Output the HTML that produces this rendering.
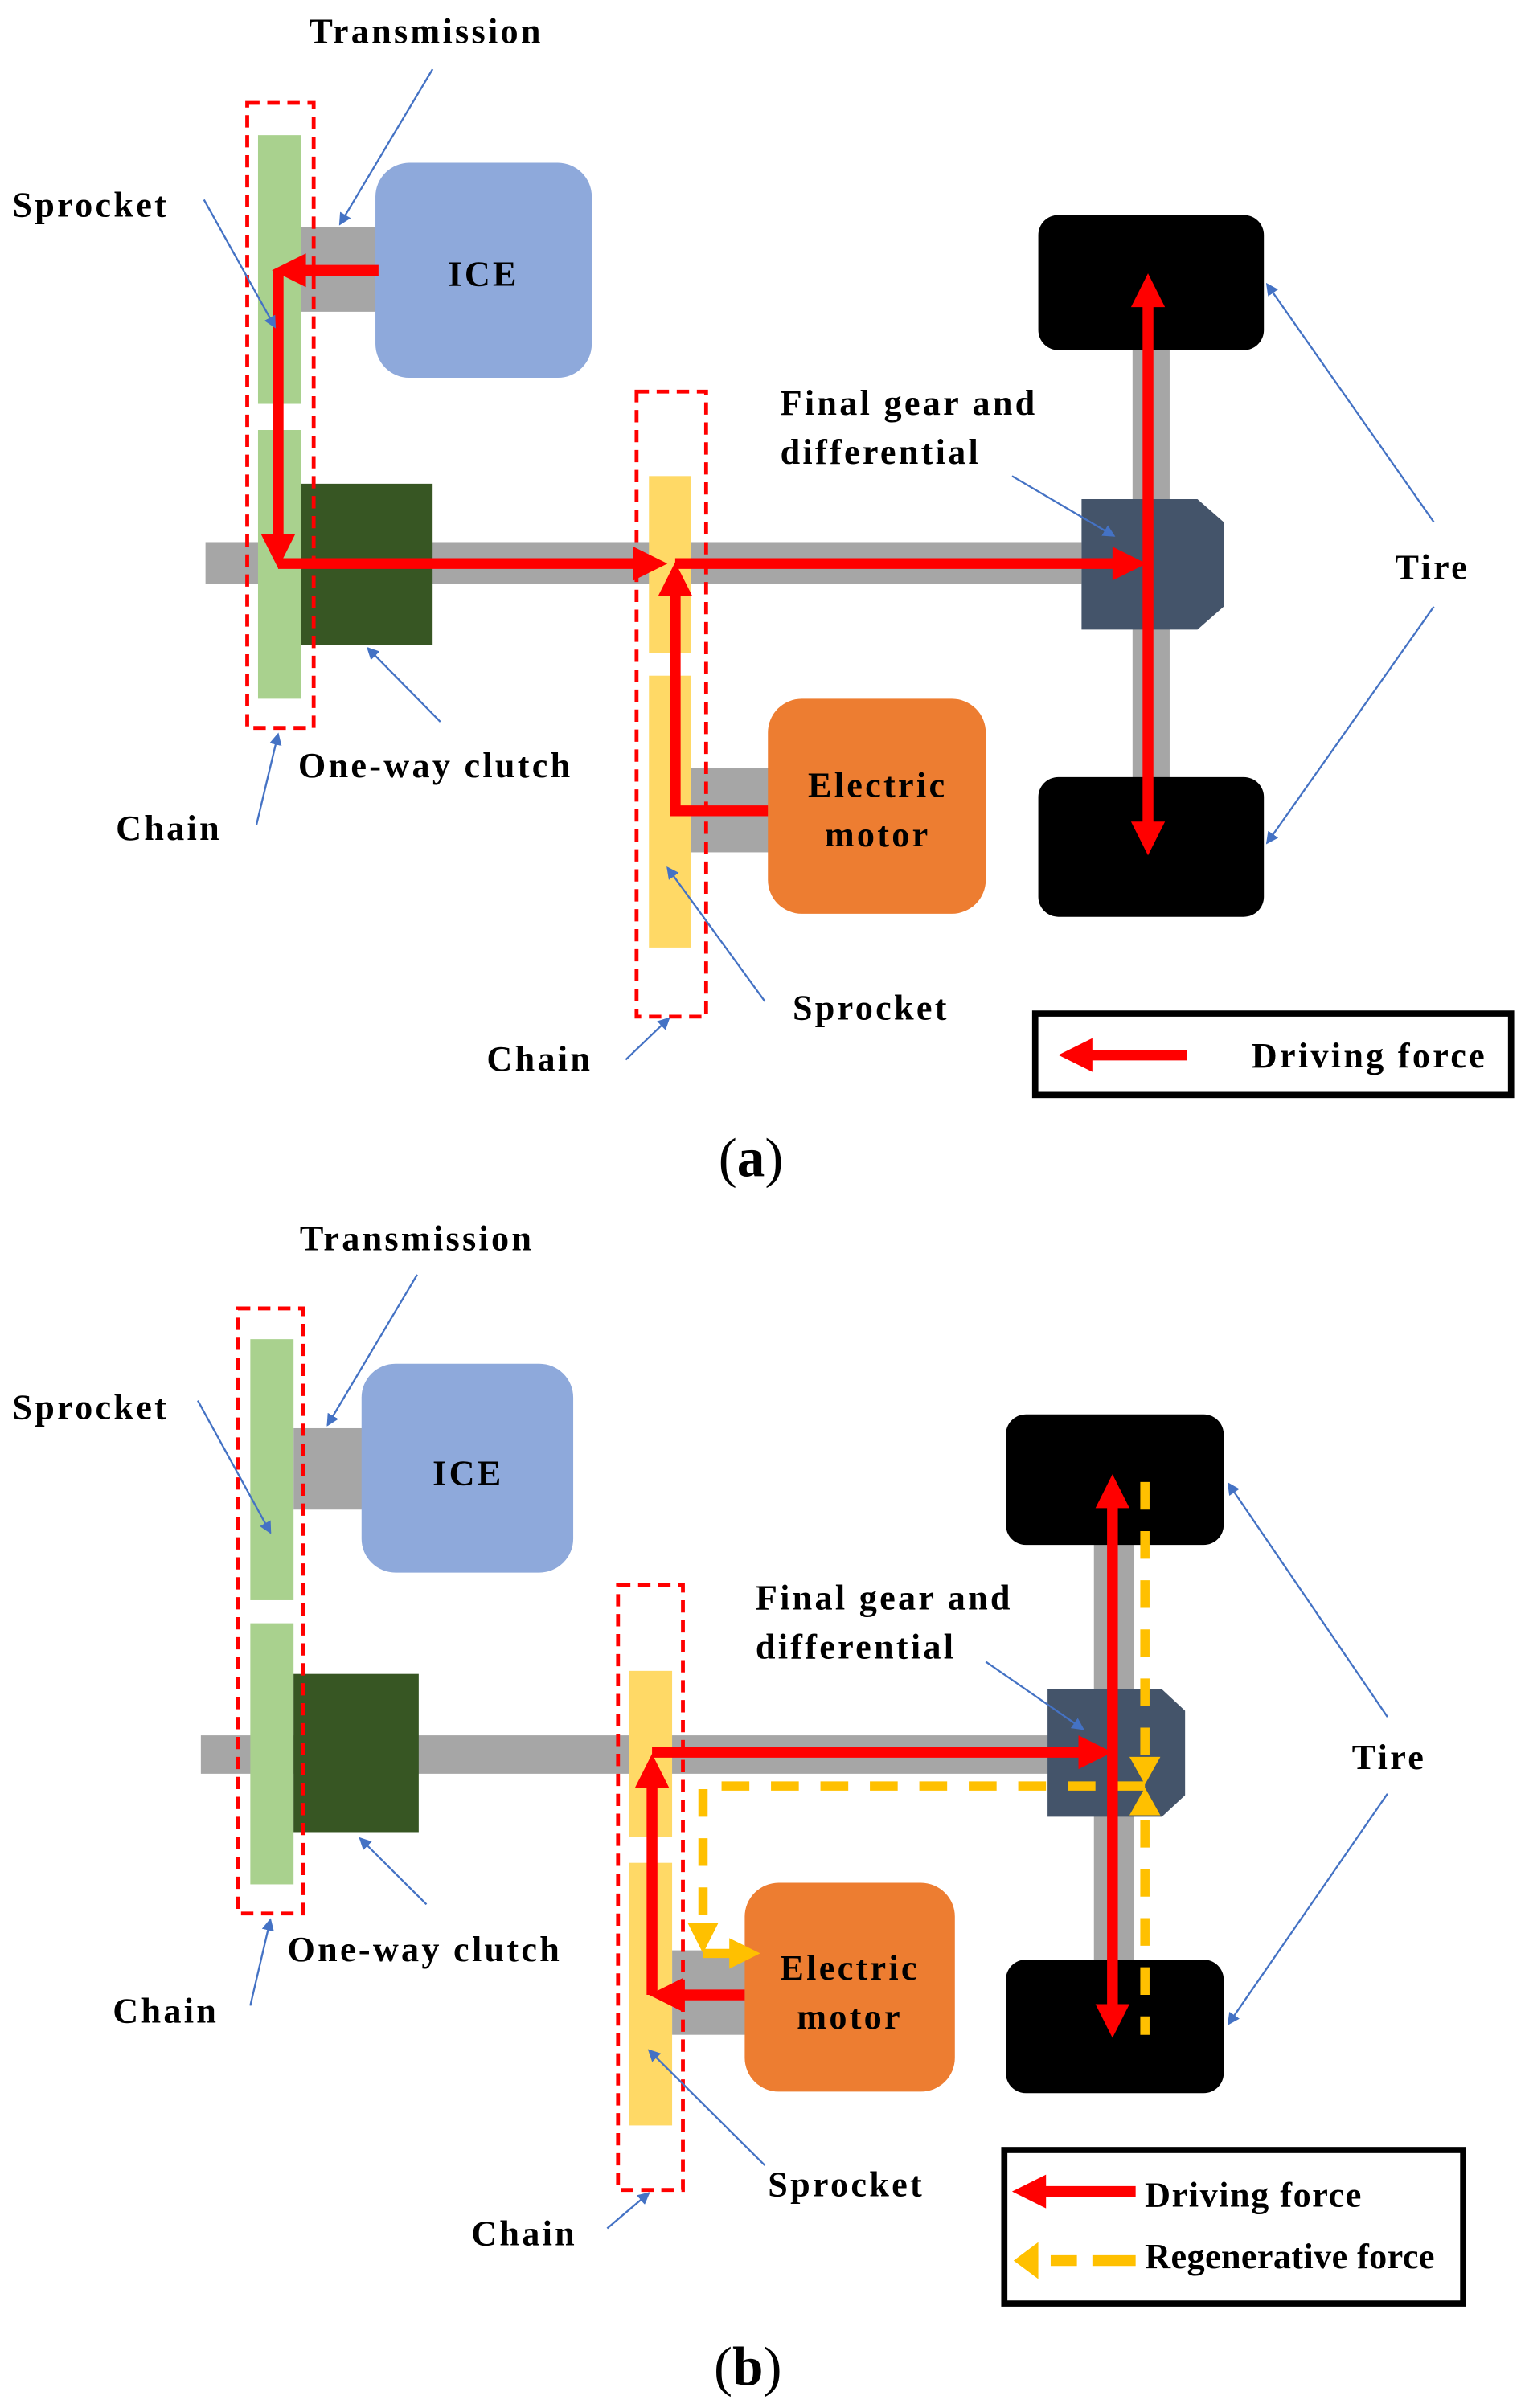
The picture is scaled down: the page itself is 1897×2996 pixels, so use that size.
<!DOCTYPE html>
<html><head><meta charset="utf-8"><style>html,body{margin:0;padding:0;background:#fff}svg{display:block}</style></head><body>
<svg width="1897" height="2996" viewBox="0 0 987 1568" preserveAspectRatio="none" xmlns="http://www.w3.org/2000/svg">
<defs>
<marker id="bl" markerWidth="8" markerHeight="8" refX="7" refY="4" orient="auto" markerUnits="userSpaceOnUse"><path d="M0,0 L8,4 L0,8 z" fill="#4472C4"/></marker>
</defs>
<g font-family="Liberation Serif, serif" font-weight="bold" font-size="23" fill="#000" letter-spacing="1.7">
<!-- PANEL A -->
<rect x="133" y="353" width="567" height="27" fill="#A6A6A6"/>
<rect x="195" y="148" width="50" height="55" fill="#A6A6A6"/>
<rect x="447" y="500" width="53" height="55" fill="#A6A6A6"/>
<rect x="733" y="225" width="24" height="285" fill="#A6A6A6"/>
<rect x="167" y="88" width="28" height="175" fill="#A9D18E"/>
<rect x="167" y="280" width="28" height="175" fill="#A9D18E"/>
<rect x="195" y="315" width="85" height="105" fill="#375623"/>
<rect x="243" y="106" width="140" height="140" rx="22" fill="#8EA9DB"/>
<text x="313" y="186" text-anchor="middle">ICE</text>
<rect x="420" y="310" width="27" height="115" fill="#FFD966"/>
<rect x="420" y="440" width="27" height="177" fill="#FFD966"/>
<rect x="497" y="455" width="141" height="140" rx="22" fill="#ED7D31"/>
<text x="568" y="519" text-anchor="middle">Electric</text>
<text x="568" y="551" text-anchor="middle">motor</text>
<rect x="672" y="140" width="146" height="88" rx="13" fill="#000"/>
<rect x="672" y="506" width="146" height="91" rx="13" fill="#000"/>
<path d="M700,325 L775,325 L792,340 L792,395 L775,410 L700,410 z" fill="#44546A"/>
<rect x="160" y="67" width="43" height="407" fill="none" stroke="#FF0000" stroke-width="2.5" stroke-dasharray="8,5"/>
<rect x="412" y="255" width="45" height="407" fill="none" stroke="#FF0000" stroke-width="2.5" stroke-dasharray="8,5"/>
<g fill="#FF0000" stroke="#FF0000">
<path d="M245,176 L195,176" stroke-width="7"/><path d="M176,176 L198,165 L198,187 z" stroke="none"/>
<path d="M180,176 L180,350" stroke-width="7"/><path d="M180,370 L169,348 L191,348 z" stroke="none"/>
<path d="M180,367 L412,367" stroke-width="7"/><path d="M432,367 L410,356 L410,378 z" stroke="none"/>
<path d="M437,367 L722,367" stroke-width="7"/><path d="M742,367 L720,356 L720,378 z" stroke="none"/>
<path d="M497,528 L437,528 L437,388" stroke-width="7" fill="none"/><path d="M437,366 L426,388 L448,388 z" stroke="none"/>
<path d="M743,198 L743,537" stroke-width="7"/><path d="M743,178 L732,200 L754,200 z" stroke="none"/><path d="M743,557 L732,535 L754,535 z" stroke="none"/>
</g>
<rect x="670" y="660" width="308" height="53" fill="#fff" stroke="#000" stroke-width="4"/>
<path d="M768,687 L705,687" stroke="#FF0000" stroke-width="7"/><path d="M685,687 L707,676 L707,698 z" fill="#FF0000"/>
<text x="810" y="695">Driving force</text>
<g stroke="#4472C4" stroke-width="1.2" fill="none" marker-end="url(#bl)">
<path d="M280,45 L220,146"/><path d="M132,130 L178,213"/><path d="M655,310 L721,349"/>
<path d="M928,340 L820,185"/><path d="M928,395 L820,549"/><path d="M285,470 L238,422"/>
<path d="M166,537 L180,478"/><path d="M495,652 L432,565"/><path d="M405,690 L433,663"/>
</g>
<text x="200" y="28">Transmission</text>
<text x="8" y="141">Sprocket</text>
<text x="505" y="270">Final gear and</text>
<text x="505" y="302">differential</text>
<text x="903" y="377">Tire</text>
<text x="193" y="506">One-way clutch</text>
<text x="75" y="547">Chain</text>
<text x="513" y="664">Sprocket</text>
<text x="315" y="697">Chain</text>
<text x="486" y="766" text-anchor="middle" font-weight="normal" font-size="36" letter-spacing="0">(<tspan font-weight="bold">a</tspan>)</text>

<!-- PANEL B -->
<rect x="130" y="1130" width="550" height="25" fill="#A6A6A6"/>
<rect x="190" y="930" width="46" height="53" fill="#A6A6A6"/>
<rect x="435" y="1270" width="50" height="55" fill="#A6A6A6"/>
<rect x="708" y="1005" width="26" height="275" fill="#A6A6A6"/>
<rect x="162" y="872" width="28" height="170" fill="#A9D18E"/>
<rect x="162" y="1057" width="28" height="170" fill="#A9D18E"/>
<rect x="190" y="1090" width="81" height="103" fill="#375623"/>
<rect x="234" y="888" width="137" height="136" rx="22" fill="#8EA9DB"/>
<text x="303" y="967" text-anchor="middle">ICE</text>
<rect x="407" y="1088" width="28" height="108" fill="#FFD966"/>
<rect x="407" y="1213" width="28" height="171" fill="#FFD966"/>
<rect x="482" y="1226" width="136" height="136" rx="22" fill="#ED7D31"/>
<text x="550" y="1289" text-anchor="middle">Electric</text>
<text x="550" y="1321" text-anchor="middle">motor</text>
<rect x="651" y="921" width="141" height="85" rx="13" fill="#000"/>
<rect x="651" y="1276" width="141" height="87" rx="13" fill="#000"/>
<path d="M678,1100 L752,1100 L767,1114 L767,1169 L752,1183 L678,1183 z" fill="#44546A"/>
<rect x="154" y="852" width="42" height="394" fill="none" stroke="#FF0000" stroke-width="2.5" stroke-dasharray="8,5"/>
<rect x="400" y="1032" width="42" height="394" fill="none" stroke="#FF0000" stroke-width="2.5" stroke-dasharray="8,5"/>
<g stroke="#FFC000" stroke-width="6" fill="none">
<path d="M741,965 L741,1145" stroke-dasharray="18,14"/>
<path d="M741,1185 L741,1325" stroke-dasharray="18,14"/>
<path d="M741,1163 L455,1163 L455,1255" stroke-dasharray="18,14"/>
<path d="M455,1272 L475,1272"/>
</g>
<g fill="#FFC000">
<path d="M741,1162 L731,1144 L751,1144 z"/><path d="M741,1164 L731,1182 L751,1182 z"/>
<path d="M455,1272 L445,1252 L465,1252 z"/><path d="M492,1272 L472,1262 L472,1282 z"/>
</g>
<g fill="#FF0000" stroke="#FF0000">
<path d="M422,1141 L700,1141" stroke-width="7"/><path d="M720,1141 L698,1130 L698,1152 z" stroke="none"/>
<path d="M482,1299 L440,1299" stroke-width="7"/><path d="M420,1299 L442,1288 L442,1310 z" stroke="none"/>
<path d="M422,1299 L422,1164" stroke-width="7"/><path d="M422,1142 L411,1164 L433,1164 z" stroke="none"/>
<path d="M720,980 L720,1307" stroke-width="7"/><path d="M720,960 L709,982 L731,982 z" stroke="none"/><path d="M720,1327 L709,1305 L731,1305 z" stroke="none"/>
</g>
<rect x="650" y="1400" width="297" height="100" fill="#fff" stroke="#000" stroke-width="4"/>
<path d="M735,1427 L675,1427" stroke="#FF0000" stroke-width="7"/><path d="M655,1427 L677,1416 L677,1438 z" fill="#FF0000"/>
<text x="741" y="1437" letter-spacing="0.8">Driving force</text>
<path d="M735,1472 L680,1472" stroke="#FFC000" stroke-width="7" stroke-dasharray="28,10"/><path d="M656,1472 L672,1460 L672,1484 z" fill="#FFC000"/>
<text x="741" y="1477" letter-spacing="0.2">Regenerative force</text>
<g stroke="#4472C4" stroke-width="1.2" fill="none" marker-end="url(#bl)">
<path d="M270,830 L212,928"/><path d="M128,912 L175,998"/><path d="M638,1082 L701,1126"/>
<path d="M898,1118 L795,966"/><path d="M898,1168 L795,1318"/><path d="M276,1240 L233,1197"/>
<path d="M162,1306 L175,1250"/><path d="M495,1410 L420,1335"/><path d="M393,1451 L420,1428"/>
</g>
<text x="194" y="814">Transmission</text>
<text x="8" y="924">Sprocket</text>
<text x="489" y="1048">Final gear and</text>
<text x="489" y="1080">differential</text>
<text x="875" y="1152">Tire</text>
<text x="186" y="1277">One-way clutch</text>
<text x="73" y="1317">Chain</text>
<text x="497" y="1430">Sprocket</text>
<text x="305" y="1462">Chain</text>
<text x="484" y="1553" text-anchor="middle" font-weight="normal" font-size="36" letter-spacing="0">(<tspan font-weight="bold">b</tspan>)</text>
</g>
</svg>
</body></html>
